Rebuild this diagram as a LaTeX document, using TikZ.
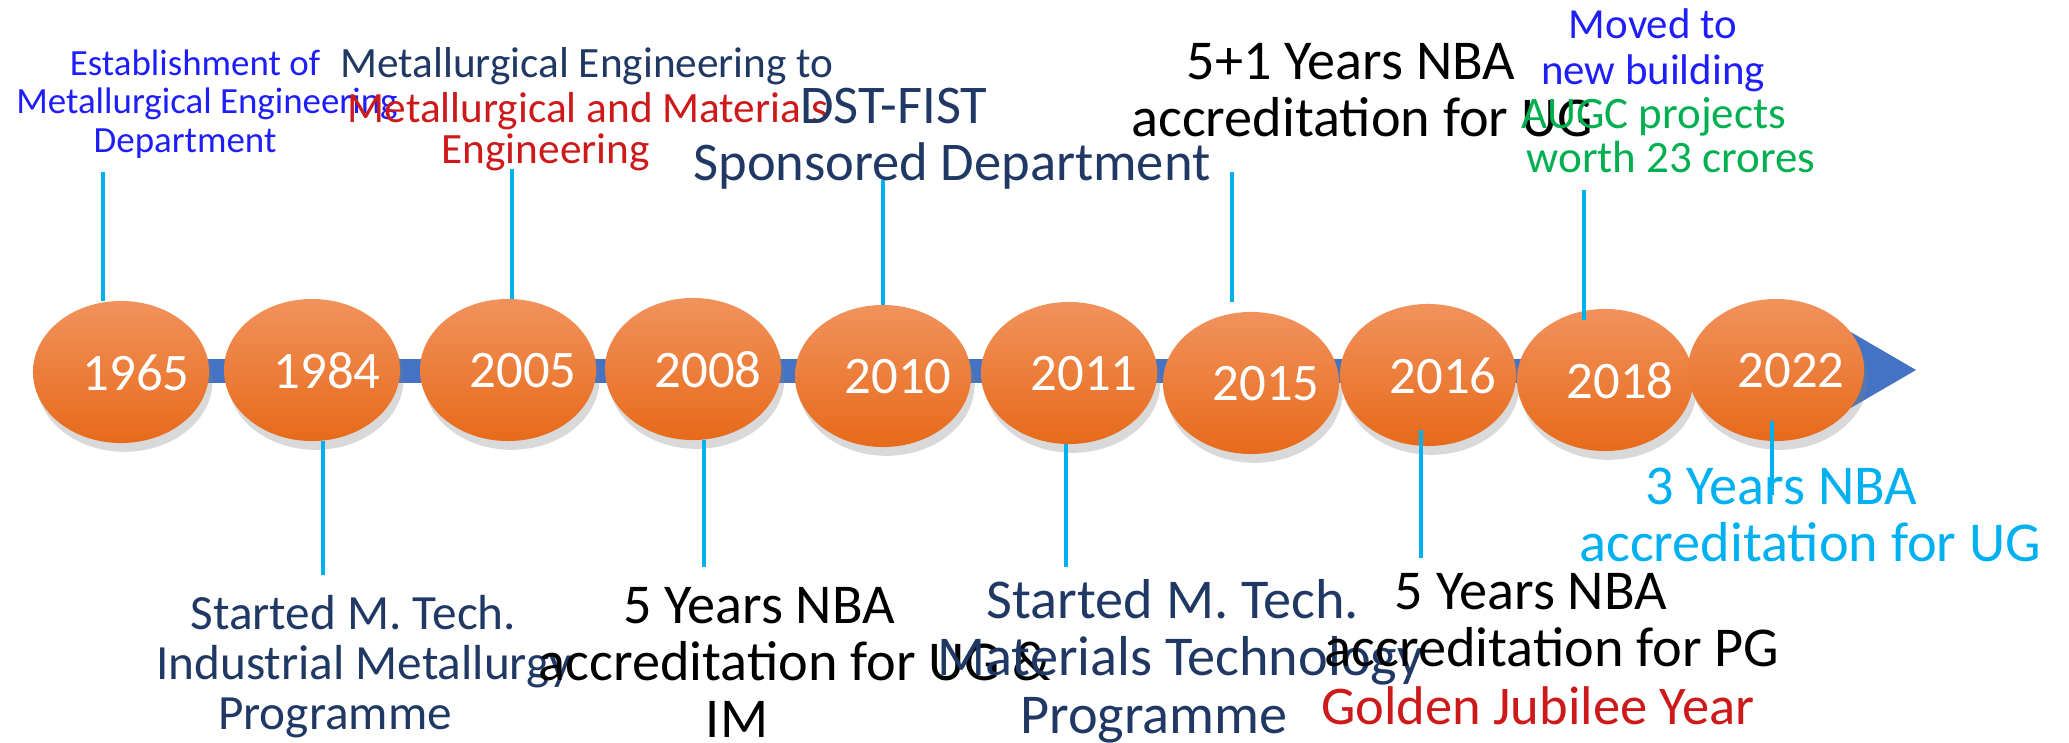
\documentclass[tikz,border=0pt]{standalone}
\usepackage{fontspec}
\setmainfont{Carlito}
\usetikzlibrary{shapes.geometric,shadows}
\definecolor{navytxt}{RGB}{31,56,100}
\definecolor{bluetxt}{RGB}{30,30,250}
\definecolor{redtxt}{RGB}{205,25,25}
\definecolor{greentxt}{RGB}{0,176,80}
\definecolor{cyanline}{RGB}{0,176,240}
\definecolor{barblue}{RGB}{68,114,196}
\definecolor{balltop}{RGB}{241,146,92}
\definecolor{ballbot}{RGB}{231,106,26}
\begin{document}
\begin{tikzpicture}[x=0.01cm, y=-0.01cm,
  yearball/.style={ellipse, minimum width=1.76cm, minimum height=1.42cm, inner sep=0pt, outer sep=0pt,
    top color=balltop, bottom color=ballbot,
    drop shadow={shadow xshift=1pt, shadow yshift=-2.5pt, opacity=0.3}},
  yearlbl/.style={text=white, font=\fontsize{15}{15}\selectfont, xshift=4.3pt, yshift=-0.3pt},
  stem/.style={cyanline, line width=1.2pt},
  note/.style={align=center, inner sep=0pt}]
  \useasboundingbox (0,0) rectangle (2069,743);

  % Timeline bar and arrow head
  \fill[barblue] (121,359) rectangle (1832,383);
  \fill[barblue] (1830,320) -- (1916,370) -- (1830,420) -- cycle;

  % Year ellipses
  \foreach \yr/\x/\y in {1965/121/372, 1984/312/370, 2005/508/370, 2008/693/369, 2010/883/376,
                         2011/1069/373, 2015/1251/383, 2016/1428/375, 2018/1605/380, 2022/1776/370}
    \node[yearball, label={[yearlbl]center:\yr}] (e\yr) at (\x,\y) {};

  % Events above the bar
  \node[note, text=bluetxt, font=\fontsize{10.5}{11}\selectfont] (t1965) at (207,104)
    {Establishment of\hspace*{6.8pt}\\Metallurgical Engineering\\Department\hspace*{12.5pt}};
  \node[note, text=navytxt, font=\fontsize{12.3}{12.5}\selectfont] (t2005a) at (587,66)
    {Metallurgical Engineering to};
  \node[note, text=redtxt, font=\fontsize{12.3}{11.7}\selectfont] (t2005b) at (588,132)
    {Metallurgical and Materials\\Engineering\hspace*{24pt}};
  \node[note, text=navytxt, font=\fontsize{15.5}{16.2}\selectfont] (t2010) at (952,139)
    {DST-FIST\hspace*{33pt}\\Sponsored Department};
  \node[note, font=\fontsize{16}{16.2}\selectfont] (t2015) at (1362,90)
    {5+1 Years NBA\hspace*{6.3pt}\\accreditation for UG};
  \node[note, text=bluetxt, font=\fontsize{12.2}{13.1}\selectfont] (t2018a) at (1653,50)
    {Moved to\\new building};
  \node[note, text=greentxt, font=\fontsize{12.8}{12.5}\selectfont] (t2018b) at (1671,135)
    {AUGC projects\hspace*{9.7pt}\\worth 23 crores};

  % Events below the bar
  \node[note, text=navytxt, font=\fontsize{14}{14.2}\selectfont] (t1984) at (364,667)
    {Started M. Tech.\hspace*{6pt}\\Industrial Metallurgy\\Programme\hspace*{16.5pt}};
  \node[note, font=\fontsize{16}{16.2}\selectfont] (t2008) at (795,662)
    {5 Years NBA\hspace*{20.5pt}\\accreditation for UG \&\\IM\hspace*{33pt}};
  \node[note, text=navytxt, font=\fontsize{16}{16.3}\selectfont] (t2011) at (1180,661)
    {Started M. Tech.\hspace*{4pt}\\Materials Technology\\Programme\hspace*{14.8pt}};
  \node[note, font=\fontsize{16}{16.3}\selectfont] (t2016) at (1552,649)
    {5 Years NBA\hspace*{12pt}\\accreditation for PG\\\textcolor{redtxt}{\fontsize{15.5}{16.3}\selectfont Golden Jubilee Year}\hspace*{8pt}};
  \node[note, text=cyanline, font=\fontsize{16}{16.2}\selectfont] (t2022) at (1810,515)
    {3 Years NBA\hspace*{16.5pt}\\accreditation for UG};

  % Stems
  \coordinate (u1965) at (103,172);
  \coordinate (u2005) at (512,169);
  \coordinate (u2010) at (883,180);
  \coordinate (u2015) at (1232,172);
  \coordinate (u2018) at (1584,190);
  \coordinate (d1984) at (323,575);
  \coordinate (d2008) at (704,567);
  \coordinate (d2011) at (1066,567);
  \coordinate (d2016) at (1421,558);
  \coordinate (d2022) at (1772,495);
  \foreach \yr in {1965,2005,2010}
    \draw[stem] (u\yr) -- (u\yr |- e\yr.north);
  \draw[stem, shorten >=2.8pt] (u2015) -- (u2015 |- e2015.north);
  \draw[stem, shorten >=-3pt] (u2018) -- (u2018 |- e2018.north);
  \foreach \yr in {1984,2008,2011}
    \draw[stem] (d\yr) -- (d\yr |- e\yr.south);
  \draw[stem, shorten >=-4.5pt] (d2016) -- (d2016 |- e2016.south);
  \draw[stem, shorten >=-5.7pt] (d2022) -- (d2022 |- e2022.south);
\end{tikzpicture}
\end{document}
